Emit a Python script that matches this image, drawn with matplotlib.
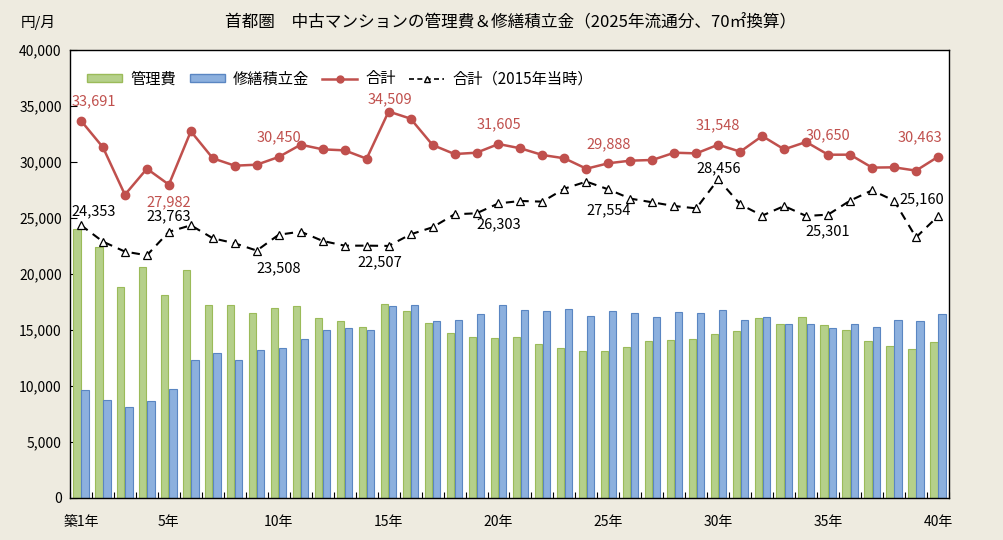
import matplotlib
matplotlib.use("Agg")
import matplotlib.pyplot as plt
from matplotlib.patches import Patch
from matplotlib.lines import Line2D
import numpy as np

plt.rcParams['font.family'] = ['Noto Sans CJK JP', 'DejaVu Sans']

# data (yen / month, 70m2 basis)
years = list(range(1, 41))
kanrihi = [24000, 22440, 18870, 20655, 18155, 20360, 17230, 17230, 16490, 16990,
           17170, 16040, 15770, 15270, 17320, 16700, 15600, 14700, 14350, 14290,
           14400, 13780, 13420, 13160, 13100, 13480, 14020, 14110, 14170, 14610,
           14910, 16040, 15540, 16130, 15420, 15000, 14050, 13570, 13300, 13930]
shuzen = [9640, 8750, 8100, 8690, 9700, 12290, 12980, 12350, 13210, 13390,
          14230, 15030, 15210, 15000, 17140, 17200, 15830, 15890, 16430, 17200,
          16790, 16730, 16850, 16250, 16670, 16520, 16160, 16640, 16490, 16760,
          15920, 16130, 15540, 15540, 15150, 15540, 15300, 15860, 15800, 16400]
total = [33691, 31310, 27080, 29400, 27982, 32740, 30330, 29670, 29760, 30450,
         31545, 31130, 31040, 30295, 34509, 33870, 31520, 30710, 30830, 31605,
         31220, 30625, 30330, 29400, 29888, 30120, 30180, 30830, 30770, 31548,
         30920, 32320, 31130, 31790, 30650, 30655, 29500, 29525, 29230, 30463]
total_2015 = [24353, 22890, 22000, 21670, 23763, 24350, 23190, 22740, 22090, 23508,
              23780, 22950, 22530, 22530, 22507, 23540, 24170, 25330, 25420, 26303,
              26520, 26460, 27620, 28250, 27554, 26730, 26400, 26070, 25860, 28456,
              26220, 25210, 26070, 25180, 25301, 26550, 27470, 26550, 23270, 25160]
label_years = [1, 5, 10, 15, 20, 25, 30, 35, 40]
xtick_labels = ['築1年', '5年', '10年', '15年', '20年', '25年', '30年', '35年', '40年']

# label offsets in points (dx, dy) for the annotated years
red_offsets = [(9, 14), (0, -13), (0, 14), (1, 9), (0, 14), (0, 14), (0, 14), (0, 14), (-13, 14)]
blk_offsets = [(9, 10), (0, 11), (0, -24), (-6, -12), (0, -15), (0, -15), (0, 8), (0, -12), (-12, 12)]

bg = '#eeebe0'
red = '#c0504d'
fig = plt.figure(figsize=(10.04, 5.40), dpi=100, facecolor=bg)
ax = fig.add_axes([0.0697, 0.0778, 0.8755, 0.8296])
ax.set_facecolor('white')

x = np.arange(len(years))
w = 0.33
ax.bar(x - 0.185, kanrihi, width=w, color='#b5d08a', edgecolor='#9bbb59', linewidth=0.8, zorder=2)
ax.bar(x + 0.185, shuzen, width=w, color='#8cb0de', edgecolor='#5a86c2', linewidth=0.8, zorder=2)
ax.plot(x, total, color=red, lw=1.8, marker='o', ms=6, mfc=red, mec=red, zorder=4)
ax.plot(x, total_2015, color='black', lw=1.5, ls=(0, (4, 3)), marker='^', ms=6,
        mfc='white', mec='black', mew=0.9, zorder=4)

for yr, (dx, dy) in zip(label_years, red_offsets):
    i = yr - 1
    ax.annotate(f'{total[i]:,}', (x[i], total[i]), xytext=(dx, dy), textcoords='offset points',
                ha='center', va='center', color=red, fontsize=10.5, zorder=5)
for yr, (dx, dy) in zip(label_years, blk_offsets):
    i = yr - 1
    ax.annotate(f'{total_2015[i]:,}', (x[i], total_2015[i]), xytext=(dx, dy), textcoords='offset points',
                ha='center', va='center', color='black', fontsize=10.5, zorder=5)

ax.set_xlim(-0.5, len(years) - 0.5)
ax.set_ylim(0, 40000)
ax.set_yticks(np.arange(0, 40001, 5000))
ax.set_yticklabels([f'{v:,}' for v in range(0, 40001, 5000)], fontsize=10)
ax.tick_params(axis='y', direction='in', length=5, width=0.8, pad=6)
ax.set_xticks([y - 1 for y in label_years])
ax.set_xticklabels(xtick_labels, fontsize=10)
ax.tick_params(axis='x', which='major', length=0, pad=12)
ax.set_xticks(np.arange(-0.5, len(years), 1), minor=True)
ax.tick_params(axis='x', which='minor', direction='in', length=4, width=0.8)
for s in ax.spines.values():
    s.set_linewidth(1.0)
    s.set_color('black')

handles = [Patch(facecolor='#b5d08a', edgecolor='#9bbb59', label='管理費'),
           Patch(facecolor='#8cb0de', edgecolor='#5a86c2', label='修繕積立金'),
           Line2D([], [], color=red, lw=1.8, marker='o', ms=5, label='合計'),
           Line2D([], [], color='black', lw=1.2, ls=(0, (3, 2)), marker='^', ms=5,
                  mfc='white', mec='black', label='合計（2015年当時）')]
ax.legend(handles=handles, loc='upper left', bbox_to_anchor=(0.004, 0.985), ncol=4, frameon=False,
          fontsize=11, handlelength=2.3, handleheight=0.45, columnspacing=0.9, handletextpad=0.5)

fig.text(0.5086, 0.958, '首都圏　中古マンションの管理費＆修繕積立金（2025年流通分、70㎡換算）',
         ha='center', va='center', fontsize=12)
fig.text(0.038, 0.958, '円/月', ha='center', va='center', fontsize=10.5)

fig.savefig('out.png', dpi=100, facecolor=bg)
